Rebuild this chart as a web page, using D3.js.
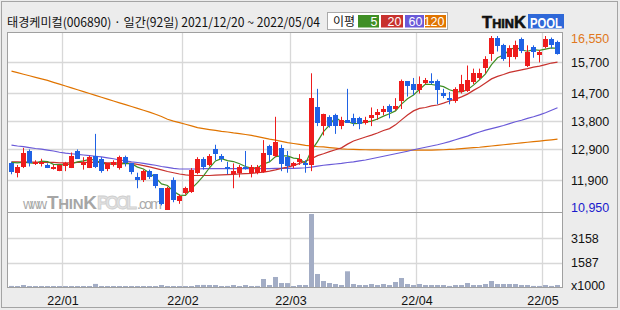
<!DOCTYPE html>
<meta charset="utf-8">
<style>
body { margin: 0; }
.axis text { font-family: "Liberation Sans", Arial, sans-serif; font-size: 12.5px; fill: #111; }
</style>
<svg width="620" height="310"></svg>
<script src="https://d3js.org/d3.v7.min.js"></script>
<script>

// ---- data ----
var titleText = "태경케미컬(006890) · 일간(92일) 2021/12/20 ~ 2022/05/04";

var months = ["22/01", "22/02", "22/03", "22/04", "22/05"];
var monthStart = [9, 29, 47, 68, 89];   // index of first trading day

var priceTicks = [15700, 14700, 13800, 12900, 11900];
var priceMax = 16550, priceMin = 10950;
var volTicks = [1587, 3158];

var open = [12450,12150,12350,12850,12450,12450,12400,12300,12200,12350,
  12300,12850,12400,12300,12700,12600,12250,12400,12300,12650,
  12450,12000,11900,12200,12100,11650,10950,11900,11250,11500,
  11550,12150,12600,12400,12900,12700,12350,12100,12150,12350,
  12150,12150,12200,13000,12700,12950,12650,12350,12500,12450,
  12400,14250,13650,13950,14000,13650,13850,13900,13900,13750,
  13900,14000,14100,14300,14200,14450,15100,15000,14800,15050,
  15100,15100,14700,14550,14450,14750,14800,15050,15200,15500,
  16000,16500,16250,15850,15850,16450,15600,16200,15950,16200,
  16450,16350];
var high = [12500,12400,12950,12900,12550,12600,12450,12400,12400,12500,
  12800,12900,12650,12700,13400,12650,12450,12550,12700,12700,
  12450,12150,12250,12250,12100,11650,11700,12000,11450,11700,
  12300,12650,12650,12750,13050,12750,12500,12450,12400,12850,
  12400,12400,13200,13050,13950,13050,12850,12500,12750,12550,
  15350,14850,14050,14000,14050,13950,14850,14050,13950,13950,
  14250,14200,14300,14350,14550,15150,15100,15200,15250,15200,
  15350,15150,14850,14750,14900,15300,15600,15500,15500,15900,
  16550,16550,16300,16250,16400,16500,16250,16250,16100,16550,
  16500,16400];
var low = [12100,12000,12300,12350,12400,12350,12300,12250,12200,12200,
  12300,12600,12250,12300,12300,12150,12200,12350,12250,12350,
  12100,11650,11850,11950,11650,11100,10950,11200,11150,11450,
  11500,12100,12250,12350,12550,12500,12100,11650,12000,12250,
  12000,12100,12150,12500,12650,12200,12150,12300,12400,12150,
  12200,13650,13350,13600,13400,13550,13750,13650,13550,13700,
  13650,13850,14000,13900,14150,14200,14600,14650,14700,15000,
  15000,14350,14550,14350,14400,14700,14750,15000,15150,15350,
  15750,16050,15750,15550,15800,16000,15550,15850,15700,16150,
  16150,15950];
var close = [12150,12350,12800,12450,12500,12500,12300,12350,12400,12450,
  12700,12600,12500,12650,12350,12200,12450,12500,12650,12450,
  12150,11900,12200,12000,11700,11150,11650,11250,11400,11650,
  12250,12600,12350,12700,12750,12600,12300,12200,12350,12300,
  12350,12350,12800,12700,13150,12450,12350,12450,12600,12400,
  14550,13750,14050,13650,13650,13850,13750,13750,13700,13850,
  14000,14100,14200,14100,14300,15100,14950,14800,15000,15150,
  15050,14800,14600,14500,14850,15000,15150,15350,15350,15800,
  16500,16250,15800,16150,16250,16050,16050,16050,16050,16450,
  16250,15950];
var volume = [70,65,130,60,60,65,60,60,60,60,
  65,60,60,65,200,60,60,60,60,60,
  60,60,60,60,60,130,65,60,60,60,
  65,130,135,130,130,65,70,130,65,130,
  65,70,520,130,650,260,255,65,130,130,
  4740,845,390,260,195,130,1020,195,130,130,
  195,130,195,130,325,585,195,130,195,130,
  130,130,130,70,130,130,260,130,130,195,
  390,195,195,195,195,130,130,70,70,130,
  70,130];

var ma5 = [12480,12470,12490,12470,12450,12520,12510,12420,12410,12400,
  12440,12500,12530,12580,12560,12460,12430,12430,12430,12450,
  12440,12330,12270,12140,11990,11790,11740,11550,11430,11420,
  11640,11830,12050,12310,12530,12600,12540,12510,12440,12350,
  12300,12310,12430,12500,12670,12690,12690,12620,12600,12450,
  12870,13150,13470,13680,13930,13790,13790,13730,13740,13780,
  13810,13880,13970,14050,14140,14360,14530,14650,14830,15000,
  14990,14960,14920,14820,14760,14750,14820,14970,15140,15330,
  15630,15850,15940,16100,16190,16100,16060,16110,16090,16130,
  16170,16150];
var ma20 = [12500,12500,12490,12490,12490,12480,12480,12480,12470,12470,
  12470,12480,12480,12480,12490,12480,12470,12470,12470,12460,
  12450,12420,12380,12340,12290,12240,12190,12150,12110,12080,
  12060,12060,12060,12060,12070,12080,12090,12100,12110,12120,
  12130,12150,12170,12200,12240,12290,12330,12380,12450,12520,
  12600,12700,12760,12830,12890,12950,13070,13170,13235,13300,
  13360,13430,13510,13570,13690,13850,14010,14140,14220,14250,
  14300,14330,14390,14460,14520,14590,14680,14800,14910,15040,
  15170,15250,15310,15380,15420,15460,15500,15550,15580,15630,
  15680,15710];
var ma60 = [13040,13010,12990,12960,12930,12910,12880,12850,12810,12780,
  12760,12740,12720,12700,12680,12660,12630,12600,12560,12530,
  12500,12480,12450,12420,12390,12350,12320,12290,12270,12270,
  12270,12270,12280,12280,12280,12280,12280,12280,12280,12280,
  12280,12280,12280,12280,12290,12290,12290,12290,12300,12310,
  12330,12360,12390,12410,12430,12450,12480,12500,12530,12560,
  12600,12640,12680,12720,12760,12800,12840,12890,12930,12970,
  13010,13050,13100,13150,13210,13270,13330,13400,13460,13520,
  13570,13620,13670,13730,13790,13840,13900,13950,14010,14080,
  14160,14240];
var ma120 = [15420,15370,15320,15270,15220,15170,15120,15060,15000,14940,
  14880,14820,14760,14700,14640,14580,14520,14460,14400,14340,
  14280,14220,14160,14100,14030,13960,13870,13810,13760,13710,
  13660,13600,13570,13540,13510,13480,13460,13430,13410,13380,
  13350,13310,13270,13230,13200,13160,13120,13090,13060,13030,
  13010,12990,12980,12960,12940,12920,12905,12900,12895,12890,
  12885,12885,12880,12880,12875,12875,12875,12875,12875,12880,
  12880,12885,12890,12900,12910,12925,12940,12955,12970,12990,
  13010,13030,13050,13070,13090,13110,13130,13150,13170,13190,
  13210,13230];

var maLabels = ["5", "20", "60", "120"];
var maColors = ["#3f8f25", "#c8322e", "#6a5ad8", "#e07400"];

// ---- layout ----
var svg = d3.select("svg");
var n = close.length;
var upColor = "#ee1c1c", downColor = "#1f62e4";

var x = d3.scaleLinear().domain([0, n]).range([8.5, 560.5]);
var y = d3.scaleLinear().domain([10886, 16679]).range([212, 32]);
var yv = d3.scaleLinear().domain([0, 4740]).range([287, 214]);

svg.append("rect").attr("width", 620).attr("height", 310).attr("fill", "#ececec");
svg.append("rect").attr("x", 1.5).attr("y", 1.5).attr("width", 616).attr("height", 306)
    .attr("fill", "none").attr("stroke", "#a4a4a4");

// panels
svg.append("rect").attr("x", 7.5).attr("y", 32.5).attr("width", 555).attr("height", 180)
    .attr("fill", "#fff");
svg.append("rect").attr("x", 7.5).attr("y", 212.5).attr("width", 555).attr("height", 75)
    .attr("fill", "#fff");

// grid
var grid = svg.append("g").attr("stroke", "#d8d8d8").attr("stroke-width", 1.3);
grid.selectAll("line.h").data(priceTicks).join("line")
    .attr("x1", 8).attr("x2", 562)
    .attr("y1", function(d) { return Math.round(y(d)) + 0.5; })
    .attr("y2", function(d) { return Math.round(y(d)) + 0.5; });
grid.selectAll("line.v").data(volTicks).join("line")
    .attr("x1", 8).attr("x2", 562)
    .attr("y1", function(d) { return Math.round(yv(d)) + 0.5; })
    .attr("y2", function(d) { return Math.round(yv(d)) + 0.5; });
grid.selectAll("line.m").data(monthStart).join("line")
    .attr("x1", function(d) { return x(d); }).attr("x2", function(d) { return x(d); })
    .attr("y1", 33).attr("y2", 287);

// watermark
var wm = svg.append("g");
wm.append("text").attr("x", 23).attr("y", 209).attr("font-family", "Liberation Sans, Arial")
    .attr("font-size", 14).attr("fill", "#aaaaaa").attr("textLength", 24).text("www.");
var wmT = wm.append("text").attr("x", 47).attr("y", 209).attr("font-family", "Liberation Sans, Arial")
    .attr("font-weight", "bold").attr("fill", "#a6a6a6").attr("textLength", 50);
wmT.append("tspan").attr("font-size", 19).text("T");
wmT.append("tspan").attr("font-size", 15).text("HIN");
wmT.append("tspan").attr("font-size", 19).text("K");
wm.append("text").attr("x", 97).attr("y", 209).attr("font-family", "Liberation Sans, Arial")
    .attr("font-weight", "bold").attr("font-size", 18).attr("fill", "#e2e2e2")
    .attr("stroke", "#cfcfcf").attr("stroke-width", 0.8).attr("textLength", 40).text("POOL");
wm.append("text").attr("x", 137).attr("y", 209).attr("font-family", "Liberation Sans, Arial")
    .attr("font-size", 14).attr("fill", "#aaaaaa").attr("textLength", 25).text(".com");

// moving averages
var line = d3.line()
    .x(function(d, i) { return x(i) + 3; })
    .y(function(d) { return y(d); });
[ma120, ma60, ma20, ma5].forEach(function(s, k) {
  svg.append("path").datum(s)
      .attr("d", line)
      .attr("fill", "none")
      .attr("stroke", maColors[3 - k])
      .attr("stroke-width", 1.2);
});

// candles
var idx = d3.range(n);
var candles = svg.append("g").selectAll("g").data(idx).join("g")
    .attr("fill", function(i) { return close[i] >= open[i] ? upColor : downColor; })
    .attr("stroke", function(i) { return close[i] >= open[i] ? upColor : downColor; });
candles.append("line")
    .attr("x1", function(i) { return x(i) + 3; })
    .attr("x2", function(i) { return x(i) + 3; })
    .attr("y1", function(i) { return y(high[i]); })
    .attr("y2", function(i) { return y(low[i]); });
candles.append("rect")
    .attr("stroke", "none")
    .attr("x", function(i) { return x(i) + 0.5; })
    .attr("width", 5)
    .attr("y", function(i) { return Math.round(y(Math.max(open[i], close[i]))); })
    .attr("height", function(i) {
      return Math.max(1, Math.round(Math.abs(y(open[i]) - y(close[i]))));
    });

// volume
svg.append("g").selectAll("rect").data(idx).join("rect")
    .attr("fill", "#a3adc5")
    .attr("x", function(i) { return x(i) + 0.5; })
    .attr("width", 5)
    .attr("y", function(i) { return Math.min(yv(volume[i]), yv(0) - 1); })
    .attr("height", function(i) { return Math.max(1, yv(0) - yv(volume[i])); });

// panel borders
svg.append("rect").attr("x", 7.5).attr("y", 32.5).attr("width", 555).attr("height", 180)
    .attr("fill", "none").attr("stroke", "#a0a0a0");
svg.append("rect").attr("x", 7.5).attr("y", 212.5).attr("width", 555).attr("height", 75)
    .attr("fill", "none").attr("stroke", "#a0a0a0");

// axes
svg.append("g").attr("class", "axis").attr("transform", "translate(566,0)")
    .call(d3.axisRight(y).tickValues(priceTicks).tickSize(0).tickPadding(5).tickFormat(d3.format(",")))
    .call(function(g) { g.select(".domain").remove(); });
svg.append("g").attr("class", "axis").attr("transform", "translate(566,0)")
    .call(d3.axisRight(yv).tickValues(volTicks).tickSize(0).tickPadding(5).tickFormat(d3.format("d")))
    .call(function(g) { g.select(".domain").remove(); });
svg.append("g").attr("class", "axis").attr("transform", "translate(0,288)")
    .call(d3.axisBottom(x).tickValues(monthStart).tickSize(0).tickPadding(8)
      .tickFormat(function(d, i) { return months[i]; }))
    .call(function(g) { g.select(".domain").remove(); });

var lab = svg.append("g").attr("font-family", "Liberation Sans, Arial").attr("font-size", 12.5);
lab.append("text").attr("x", 571).attr("y", y(priceMax) + 6.5).attr("fill", "#e07820")
    .text(d3.format(",")(priceMax));
lab.append("text").attr("x", 571).attr("y", y(priceMin) + 1.5).attr("fill", "#1a1acc")
    .text(d3.format(",")(priceMin));
lab.append("text").attr("x", 571).attr("y", 290).attr("fill", "#111").text("x1000");

// title
svg.append("text").attr("x", 7).attr("y", 27)
    .attr("font-family", "Noto Sans CJK KR").attr("font-size", 12.5).attr("fill", "#111")
    .attr("textLength", 313).attr("lengthAdjust", "spacingAndGlyphs")
    .text(titleText);

// legend
var lg = svg.append("g");
lg.append("rect").attr("x", 327.5).attr("y", 12.5).attr("width", 120).attr("height", 17)
    .attr("fill", "#fff").attr("stroke", "#aaaaaa");
lg.append("text").attr("x", 333).attr("y", 26).attr("font-family", "Noto Sans CJK KR")
    .attr("font-size", 12).attr("fill", "#111").text("이평");
var boxX = [358, 381, 405, 425], boxW = [21, 22, 19, 21];
maLabels.forEach(function(t, k) {
  lg.append("rect").attr("x", boxX[k]).attr("y", 15).attr("width", boxW[k]).attr("height", 12.5)
      .attr("fill", maColors[k]);
  lg.append("text").attr("x", boxX[k] + boxW[k] - 1.5).attr("y", 26).attr("text-anchor", "end")
      .attr("font-family", "Liberation Sans, Arial").attr("font-size", 12.5).attr("fill", "#fff")
      .text(t);
});

// logo
var logo = svg.append("text").attr("x", 482).attr("y", 28)
    .attr("font-family", "Liberation Sans, Arial").attr("font-weight", "bold")
    .attr("fill", "#111").attr("stroke", "#111").attr("stroke-width", 0.6)
    .attr("textLength", 44).attr("lengthAdjust", "spacingAndGlyphs");
logo.append("tspan").attr("font-size", 17).text("T");
logo.append("tspan").attr("font-size", 13).text("HIN");
logo.append("tspan").attr("font-size", 17).text("K");
svg.append("rect").attr("x", 528).attr("y", 14).attr("width", 36).attr("height", 14.5)
    .attr("fill", "#2f68d8");
svg.append("text").attr("x", 530).attr("y", 27.5)
    .attr("font-family", "Liberation Sans, Arial").attr("font-weight", "bold")
    .attr("font-size", 15).attr("fill", "#fff")
    .attr("textLength", 32).attr("lengthAdjust", "spacingAndGlyphs").text("POOL");

</script>
